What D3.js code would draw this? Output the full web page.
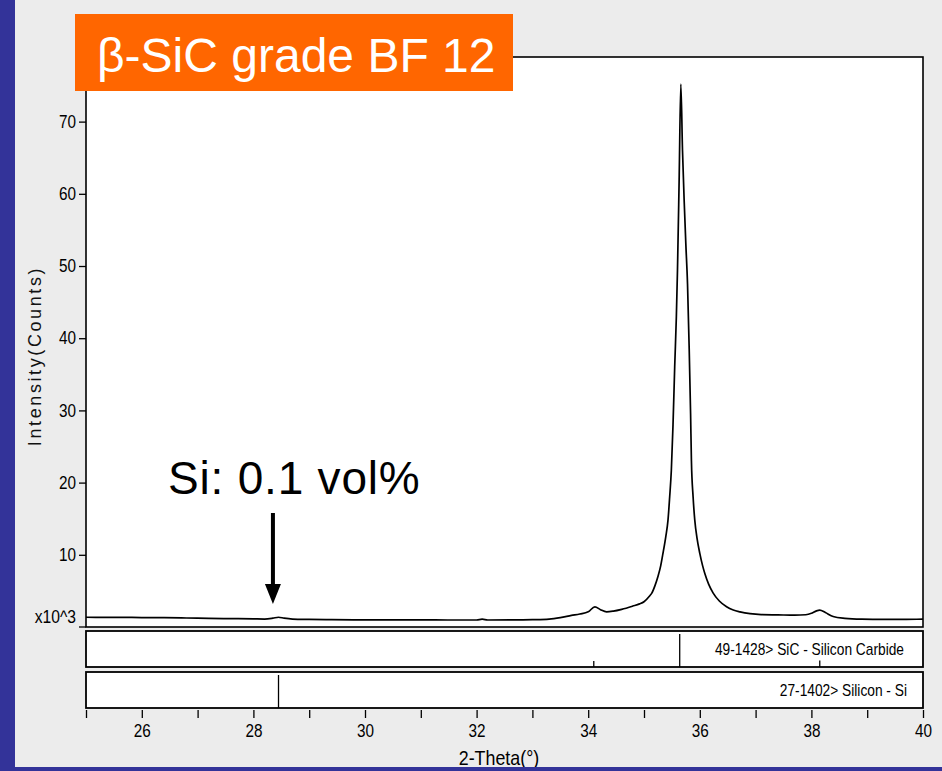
<!DOCTYPE html>
<html>
<head>
<meta charset="utf-8">
<script src="https://cdn.jsdelivr.net/npm/d3@7"></script>
<style>
  body { margin: 0; background: #ececec; }
  svg { display: block; }
</style>
</head>
<body>
<div id="chart-container"></div>
<script>
// scan readings, 2-theta (deg) and intensity (x10^3 counts)
const theta = [
  25.0, 25.3, 25.6, 26.0, 26.4, 26.8, 27.2, 27.6, 28.0, 28.2, 28.35, 28.45, 28.55, 28.7,
  29.0, 29.4, 29.8, 30.2, 30.6, 31.0, 31.5, 32.0, 32.1, 32.2, 32.6, 33.0, 33.3, 33.5,
  33.7, 33.85, 34.0, 34.12, 34.22, 34.33, 34.45, 34.6, 34.8, 34.92, 35.0, 35.1, 35.14,
  35.2, 35.25, 35.3, 35.34, 35.39, 35.43, 35.46, 35.49, 35.52, 35.55, 35.58, 35.6, 35.63,
  35.66, 35.69, 35.72, 35.75, 35.78, 35.81, 35.835, 35.85, 35.88, 35.91, 35.95, 36.0,
  36.05, 36.09, 36.16, 36.24, 36.35, 36.48, 36.6, 36.72, 36.9, 37.1, 37.4, 37.7, 37.9,
  38.0, 38.08, 38.15, 38.25, 38.39, 38.6, 38.9, 39.3, 39.7, 40.0
];
const intensity = [
  1.35, 1.32, 1.34, 1.30, 1.29, 1.25, 1.20, 1.16, 1.12, 1.10, 1.22, 1.35, 1.22, 1.10,
  1.05, 1.02, 1.00, 0.99, 0.98, 0.98, 0.97, 0.97, 1.08, 0.97, 0.98, 1.02, 1.10, 1.30,
  1.60, 1.80, 2.10, 2.80, 2.40, 2.10, 2.20, 2.45, 2.90, 3.20, 3.50, 4.30, 4.70,
  5.80, 7.00, 8.50, 10.2, 12.5, 14.8, 18.0, 21.7, 28.0, 36.0, 43.0, 49.4, 62.0,
  75.2, 66.0, 59.0, 53.0, 47.5, 38.5, 29.5, 23.0, 18.0, 14.8, 12.3, 10.2,
  8.5, 7.4, 5.9, 4.7, 3.6, 2.8, 2.35, 2.10, 1.85, 1.72, 1.68, 1.64, 1.70,
  1.90, 2.20, 2.35, 2.00, 1.45, 1.20, 1.08, 1.05, 1.07, 1.08
];

// reference patterns (relative intensity)
const sicRefTheta = [34.10, 35.64, 38.15];
const sicRefInt = [18, 100, 20];
const siRefTheta = [28.45];
const siRefInt = [100];

const yTicks = [10, 20, 30, 40, 50, 60, 70];
const xTicks = d3.range(25, 41);
const xLabels = [26, 28, 30, 32, 34, 36, 38, 40];

const width = 942, height = 771;
const plotLeft = 86, plotRight = 923, plotTop = 57, plotBottom = 627;
const sans = '"Liberation Sans", Arial, sans-serif';

// squeeze text horizontally to mimic the narrow face of the original
function squeeze(sel, s) {
  sel.style("font-family", sans)
    .attr("x", function () { return (+d3.select(this).attr("x") || 0) / s; })
    .attr("transform", `scale(${s},1)`);
}

const svg = d3.select("#chart-container")
  .append("svg")
  .attr("width", width)
  .attr("height", height);

svg.append("rect").attr("width", width).attr("height", height).attr("fill", "#ececec");

const x = d3.scaleLinear().domain([25, 40]).range([plotLeft, plotRight]);
const y = d3.scaleLinear().domain([0, 78.95]).range([plotBottom, plotTop]);

// main plot box
svg.append("rect")
  .attr("x", plotLeft).attr("y", plotTop)
  .attr("width", plotRight - plotLeft).attr("height", plotBottom - plotTop)
  .attr("fill", "#fff").attr("stroke", "#000").attr("stroke-width", 1.6);

// y axis
const yAxis = svg.append("g")
  .attr("transform", `translate(${plotLeft},0)`)
  .call(d3.axisLeft(y).tickValues(yTicks).tickSize(7).tickPadding(3));
yAxis.select(".domain").remove();
yAxis.selectAll("line").attr("stroke", "#000").attr("stroke-width", 1.3);
yAxis.selectAll("text")
  .style("font-size", "18px").attr("fill", "#000")
  .call(squeeze, 0.85);

// zero tick with the multiplier label
svg.append("line")
  .attr("x1", plotLeft - 7).attr("x2", plotLeft)
  .attr("y1", y(0)).attr("y2", y(0))
  .attr("stroke", "#000").attr("stroke-width", 1.3);
svg.append("text")
  .attr("x", plotLeft - 10).attr("y", y(0) - 4)
  .style("text-anchor", "end")
  .style("font-size", "18px")
  .text("x10^3")
  .call(squeeze, 0.87);

// y title
svg.append("text")
  .attr("transform", `translate(41,${(plotTop + plotBottom) / 2 + 14}) rotate(-90)`)
  .style("text-anchor", "middle")
  .style("font-family", sans)
  .style("font-size", "18px")
  .style("letter-spacing", "2.6px")
  .attr("fill", "#111")
  .text("Intensity(Counts)");

// pattern line
const line = d3.line()
  .x((d, i) => x(theta[i]))
  .y(d => y(d))
  .curve(d3.curveMonotoneX);

svg.append("path")
  .datum(intensity)
  .attr("d", line)
  .attr("fill", "none")
  .attr("stroke", "#000")
  .attr("stroke-width", 1.7)
  .attr("stroke-linejoin", "round");

// reference panels
const panels = [
  { y0: 631, y1: 667, t: sicRefTheta, v: sicRefInt, label: "49-1428> SiC - Silicon Carbide", lx: 904 },
  { y0: 672, y1: 708, t: siRefTheta, v: siRefInt, label: "27-1402> Silicon - Si", lx: 907 }
];

panels.forEach(p => {
  const g = svg.append("g");
  const ps = d3.scaleLinear().domain([0, 100]).range([p.y1, p.y0 + 3]);
  g.append("rect")
    .attr("x", plotLeft).attr("y", p.y0)
    .attr("width", plotRight - plotLeft).attr("height", p.y1 - p.y0)
    .attr("fill", "#fff").attr("stroke", "#000").attr("stroke-width", 1.8);
  g.selectAll("line.stick")
    .data(p.t)
    .enter()
    .append("line")
    .attr("class", "stick")
    .attr("x1", d => x(d)).attr("x2", d => x(d))
    .attr("y1", p.y1).attr("y2", (d, i) => ps(p.v[i]))
    .attr("stroke", "#000").attr("stroke-width", 1.3);
  g.append("text")
    .attr("x", p.lx).attr("y", (p.y0 + p.y1) / 2 + 6)
    .style("text-anchor", "end")
    .style("font-size", "16px")
    .text(p.label)
    .call(squeeze, 0.86);
});

// x axis
const xAxis = svg.append("g")
  .attr("transform", "translate(0,710)")
  .call(d3.axisBottom(x)
    .tickValues(xTicks)
    .tickSize(8)
    .tickPadding(6)
    .tickFormat(d => xLabels.includes(d) ? d : ""));
xAxis.select(".domain").remove();
xAxis.selectAll("line").attr("stroke", "#000").attr("stroke-width", 1.3);
xAxis.selectAll("text")
  .style("font-size", "18px").attr("fill", "#000")
  .call(squeeze, 0.85);

svg.append("text")
  .attr("x", 499).attr("y", 765)
  .style("text-anchor", "middle")
  .style("font-size", "21px")
  .text("2-Theta(°)")
  .call(squeeze, 0.85);

// annotation
svg.append("text")
  .attr("x", 168).attr("y", 494)
  .style("font-family", sans)
  .style("font-size", "46px")
  .style("letter-spacing", "0.8px")
  .text("Si: 0.1 vol%");

svg.append("line")
  .attr("x1", x(28.35)).attr("x2", x(28.35))
  .attr("y1", 513).attr("y2", 586)
  .attr("stroke", "#000").attr("stroke-width", 4);
svg.append("path")
  .attr("d", `M${x(28.35) - 8},584 L${x(28.35) + 8},584 L${x(28.35)},604 Z`)
  .attr("fill", "#000");

// title box
svg.append("rect")
  .attr("x", 75).attr("y", 14)
  .attr("width", 438).attr("height", 77)
  .attr("fill", "#ff6600");
svg.append("text")
  .attr("x", 97).attr("y", 72)
  .style("font-family", sans)
  .style("font-size", "48px")
  .attr("fill", "#fff")
  .text("β-SiC grade BF 12");

// blue frame bars
svg.append("rect").attr("x", 0).attr("y", 0).attr("width", 15).attr("height", height).attr("fill", "#333399");
svg.append("rect").attr("x", 0).attr("y", 767).attr("width", width).attr("height", 4).attr("fill", "#333399");
</script>
</body>
</html>
